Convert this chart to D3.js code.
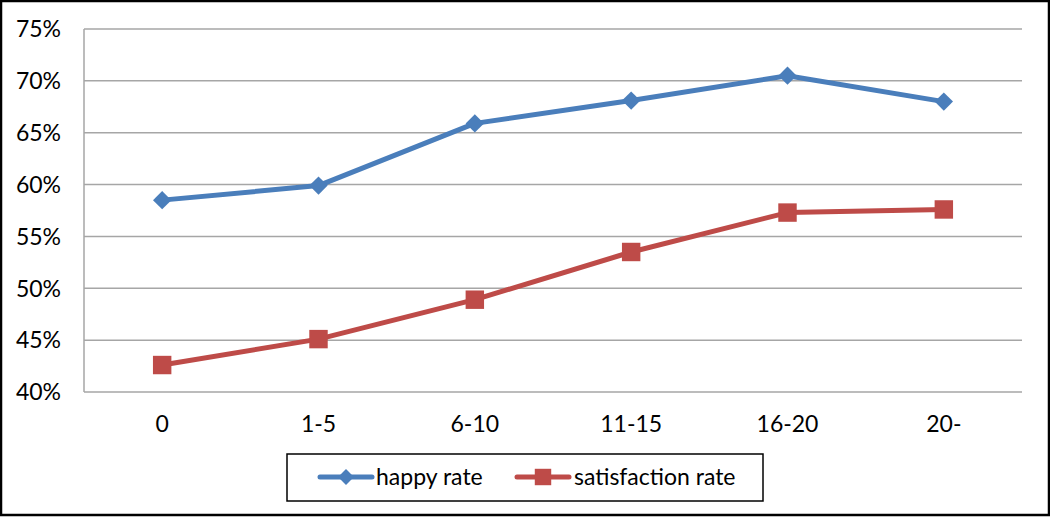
<!DOCTYPE html>
<html><head><meta charset="utf-8">
<script src="https://cdn.jsdelivr.net/npm/d3@7"></script>
<style>body{margin:0;background:#fff}svg{display:block}</style>
</head><body>
<script>
const categories = ["0","1-5","6-10","11-15","16-20","20-"];
const happyRate = [0.585, 0.599, 0.659, 0.681, 0.705, 0.680];
const satisfactionRate = [0.426, 0.451, 0.489, 0.535, 0.573, 0.576];
const yTicks = [0.40,0.45,0.50,0.55,0.60,0.65,0.70,0.75];
const seriesNames = ["happy rate","satisfaction rate"];

const W=1050,H=517;
const m={l:84,r:28,t:29,b:125};
const svg=d3.select("body").append("svg").attr("width",W).attr("height",H);
svg.append("rect").attr("x",1).attr("y",1).attr("width",W-2).attr("height",H-3).attr("fill","#fff").attr("stroke","#000").attr("stroke-width",2.5);

const x=d3.scaleBand().domain(categories).range([m.l,W-m.r]);
const y=d3.scaleLinear().domain([0.40,0.75]).range([H-m.b,m.t]);
const font="Lato, 'Open Sans', sans-serif";
const fs=23;

// gridlines
svg.append("g").selectAll("line").data(yTicks).join("line")
 .attr("x1",m.l).attr("x2",W-m.r).attr("y1",d=>y(d)).attr("y2",d=>y(d))
 .attr("stroke","#a6a6a6").attr("stroke-width",1.5);
// left axis line
svg.append("line").attr("x1",m.l).attr("x2",m.l).attr("y1",m.t).attr("y2",H-m.b).attr("stroke","#a6a6a6").attr("stroke-width",1.5);

// y labels
svg.append("g").selectAll("text").data(yTicks).join("text")
 .attr("x",61).attr("y",d=>y(d)).attr("dy","0.36em").attr("text-anchor","end")
 .attr("font-family",font).attr("font-size",fs).attr("fill","#000")
 .text(d=>d3.format(".0%")(d));
// x labels
svg.append("g").selectAll("text").data(categories).join("text")
 .attr("x",d=>x(d)+x.bandwidth()/2).attr("y",432).attr("text-anchor","middle")
 .attr("font-family",font).attr("font-size",fs).attr("fill","#000")
 .text(d=>d);

const colors=["#4A7EBB","#BE4B48"];
const line=d3.line().x((d,i)=>x(categories[i])+x.bandwidth()/2).y(d=>y(d));
const diamond=d3.symbol().type(d3.symbolDiamond2).size(215);
const square=d3.symbol().type(d3.symbolSquare).size(340);

[[happyRate,0],[satisfactionRate,1]].forEach(([vals,k])=>{
  svg.append("path").attr("d",line(vals)).attr("fill","none").attr("stroke",colors[k]).attr("stroke-width",5).attr("stroke-linejoin","round");
  svg.append("g").selectAll("path").data(vals).join("path")
   .attr("transform",(d,i)=>`translate(${x(categories[i])+x.bandwidth()/2},${y(d)})`)
   .attr("d",k===0?diamond():square()).attr("fill",colors[k]);
});

// legend
const lg=svg.append("g");
lg.append("rect").attr("x",287).attr("y",454).attr("width",476).attr("height",47).attr("fill","#fff").attr("stroke","#000").attr("stroke-width",1.5);
const items=[{x:320,tx:376},{x:517,tx:574}];
items.forEach((it,k)=>{
  lg.append("line").attr("x1",it.x).attr("x2",it.x+52).attr("y1",477).attr("y2",477).attr("stroke",colors[k]).attr("stroke-width",5).attr("stroke-linecap","round");
  lg.append("path").attr("transform",`translate(${it.x+26},477)`).attr("d",k===0?d3.symbol().type(d3.symbolDiamond2).size(160)():d3.symbol().type(d3.symbolSquare).size(270)()).attr("fill",colors[k]);
  lg.append("text").attr("x",it.tx).attr("y",477).attr("dy","0.36em").attr("font-family",font).attr("font-size",fs).attr("fill","#000").text(seriesNames[k]);
});
</script>
</body></html>
